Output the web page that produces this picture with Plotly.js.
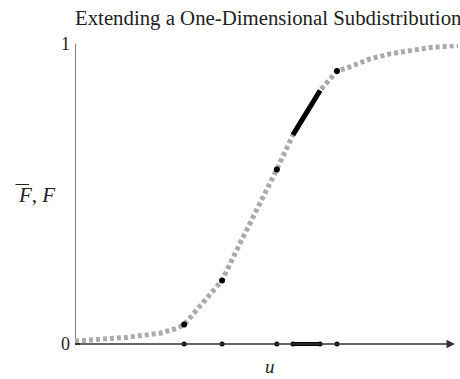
<!DOCTYPE html>
<html>
<head>
<meta charset="utf-8">
<script src="https://cdn.plot.ly/plotly-3.0.1.min.js"></script>
<style>
  html, body { margin: 0; padding: 0; background: #fff; }
  #chart { width: 460px; height: 379px; }
</style>
</head>
<body>
<div id="chart"></div>
<script>
// full distribution F (gray dotted curve)
const curveU = [0, 0.65, 1.35, 2.22, 2.66, 2.85, 3.26, 3.84, 4.31, 4.83, 5.27, 5.69, 6.06, 6.40, 6.84, 7.18, 7.70, 8.22, 8.75, 9.27, 10];
const curveF = [0.010, 0.015, 0.022, 0.036, 0.052, 0.065, 0.124, 0.212, 0.336, 0.465, 0.582, 0.697, 0.773, 0.845, 0.910, 0.924, 0.950, 0.967, 0.978, 0.988, 0.995];

// the subdistribution: isolated points and one interval
const pointU = [2.85, 3.84, 5.27, 6.84];
const pointF = [0.065, 0.212, 0.582, 0.910];
const segU = [5.69, 6.06, 6.40];
const segF = [0.697, 0.773, 0.845];

const serif = 'Liberation Serif, Times New Roman, serif';
const ink = '#222';

// pixel -> paper helpers for the labels outside the plot area
const L = 75, T = 44, W = 383, H = 315;
const px = x => (x - L) / W;
const py = y => (T + H - y) / H;

const traces = [
  {
    x: curveU, y: curveF, type: 'scatter', mode: 'lines',
    line: {color: '#aaaaaa', width: 5, dash: '4px,3px'},
    hoverinfo: 'skip'
  },
  {
    x: segU, y: segF, type: 'scatter', mode: 'lines',
    line: {color: '#000', width: 5}, hoverinfo: 'skip'
  },
  {
    x: pointU, y: pointF, type: 'scatter', mode: 'markers',
    marker: {color: '#000', size: 6}, cliponaxis: false, hoverinfo: 'skip'
  },
  {
    x: [segU[0], segU[segU.length - 1]], y: [0, 0], type: 'scatter', mode: 'lines+markers',
    line: {color: '#000', width: 4}, marker: {color: '#000', size: 5},
    cliponaxis: false, hoverinfo: 'skip'
  },
  {
    x: pointU, y: pointF.map(() => 0), type: 'scatter', mode: 'markers',
    marker: {color: '#000', size: 5}, cliponaxis: false, hoverinfo: 'skip'
  }
];

const layout = {
  width: 460, height: 379,
  margin: {l: L, r: 460 - L - W, t: T, b: 379 - T - H},
  paper_bgcolor: '#fff', plot_bgcolor: '#fff',
  showlegend: false,
  font: {family: serif, color: ink, size: 18},
  title: {
    text: 'Extending a One-Dimensional Subdistribution',
    font: {family: serif, size: 20.8, color: ink},
    xref: 'container', x: 75 / 460, xanchor: 'left',
    yref: 'container', y: 1 - 18 / 379, yanchor: 'middle'
  },
  xaxis: {
    range: [0, 10], showgrid: false, zeroline: false,
    showticklabels: false, ticks: '', showline: false, fixedrange: true
  },
  yaxis: {
    range: [-0.05, 1], showgrid: false, zeroline: false, showline: false,
    tickvals: [0, 1], ticktext: ['0', '1'], ticks: 'inside', ticklen: 5,
    tickcolor: '#333', tickwidth: 1.3, ticklabelstandoff: 4,
    tickfont: {family: serif, size: 18, color: ink}, fixedrange: true
  },
  shapes: [
    // y axis
    {type: 'line', xref: 'x', yref: 'y', x0: 0, x1: 0, y0: 0, y1: 1,
     line: {color: '#333', width: 1.3}, layer: 'below'},
    // bar over the first F of the y label
    {type: 'line', xref: 'paper', yref: 'paper', x0: px(15.5), x1: px(29), y0: py(184.5), y1: py(184.5),
     line: {color: ink, width: 1}}
  ],
  annotations: [
    // x axis with arrowhead
    {x: 9.92, y: 0, xref: 'x', yref: 'y', ax: 0, ay: 0, axref: 'x', ayref: 'y',
     text: '', showarrow: true, arrowhead: 2, arrowsize: 1.3, arrowwidth: 1.3,
     arrowcolor: '#333', standoff: 0, startstandoff: 0},
    {x: px(270), y: py(378.5), xref: 'paper', yref: 'paper', xanchor: 'center', yanchor: 'bottom',
     text: '<i>u</i>', showarrow: false, font: {family: serif, size: 19, color: ink}},
    {x: px(36), y: py(195), xref: 'paper', yref: 'paper', xanchor: 'center', yanchor: 'middle',
     text: '<i>F</i>, <i>F</i>', showarrow: false, font: {family: serif, size: 21, color: ink}}
  ]
};

Plotly.newPlot('chart', traces, layout, {displayModeBar: false, staticPlot: true});
</script>
</body>
</html>
